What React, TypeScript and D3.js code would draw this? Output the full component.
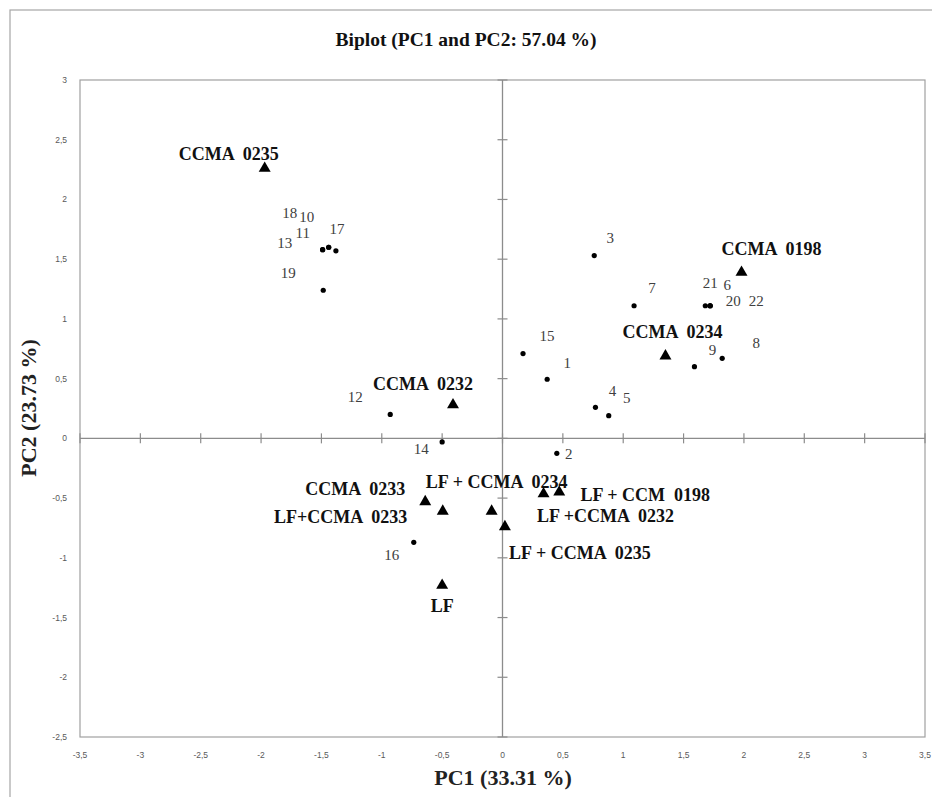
import React from 'react'
import { scaleLinear, range, symbol, symbolTriangle } from 'd3'

// Muestras (puntos)
const sampleIds = ['1', '2', '3', '4', '5', '6', '7', '8', '9', '10', '11', '12', '13', '14', '15', '16', '17', '18', '19', '20', '21', '22']
const samplePC1 = [0.37, 0.45, 0.76, 0.77, 0.88, 1.72, 1.09, 1.82, 1.59, -1.44, -1.44, -0.93, -1.49, -0.5, 0.17, -0.735, -1.38, -1.49, -1.485, 1.72, 1.68, 1.72]
const samplePC2 = [0.495, -0.125, 1.53, 0.26, 0.19, 1.11, 1.11, 0.67, 0.6, 1.6, 1.6, 0.2, 1.58, -0.03, 0.71, -0.87, 1.57, 1.58, 1.24, 1.11, 1.11, 1.11]
// Desplazamiento de etiquetas (px)
const sampleLabelDx = [20, 12, 16, 17, 18, 17, 18, 34, 18, -22, -26, -35, -38, -21, 24, -22, 1, -33, -35, 23, 5, 46]
const sampleLabelDy = [-16, 0, -18, -17, -18, -21, -18, -16, -17, -30, -14, -18, -7, 7, -18, 12, -22, -37, -17, -5, -23, -5]

// Cepas / tratamientos (triángulos)
const strainNames = ['CCMA  0235', 'CCMA  0198', 'CCMA  0234', 'CCMA  0232', 'CCMA  0233', 'LF+CCMA  0233', 'LF + CCMA  0234', 'LF + CCMA  0235', 'LF +CCMA  0232', 'LF + CCM  0198', 'LF']
const strainPC1 = [-1.97, 1.98, 1.35, -0.41, -0.64, -0.495, -0.09, 0.02, 0.34, 0.47, -0.5]
const strainPC2 = [2.26, 1.39, 0.69, 0.28, -0.53, -0.61, -0.61, -0.74, -0.465, -0.45, -1.23]
const strainLabelDx = [-36, 30, 7, -30, -70, -102, 5, 75, 62, 86, 0]
const strainLabelDy = [-15, -24, -24, -21, -13, 5, -30, 26, 22, 3, 20]

const xTicks = range(-3.5, 3.51, 0.5)
const yTicks = range(-2.5, 3.01, 0.5)

const fmt = (v: number) => {
  const r = Math.round(v * 10) / 10
  return String(r === 0 ? 0 : r).replace('.', ',')
}

const W = 932
const H = 797

const App = () => {
  const x = scaleLinear().domain([-3.5, 3.5]).range([80, 925])
  const y = scaleLinear().domain([-2.5, 3]).range([737, 80])
  const tri = symbol().type(symbolTriangle).size(62)()

  const axisColor = '#8c8c8c'
  const serif = '"Liberation Serif", "Times New Roman", serif'
  const sans = '"Liberation Sans", Arial, sans-serif'

  return (
    <svg width={W} height={H} style={{ position: 'absolute', left: 0, top: 0, background: '#fff' }}>
      {/* marco exterior */}
      <rect x={10} y={10} width={940} height={800} fill="none" stroke="#a6a6a6" strokeWidth={1.2} />

      <text x={466} y={46} textAnchor="middle" fontFamily={serif} fontWeight="bold" fontSize={19.5} fill="#111">
        Biplot (PC1 and PC2: 57.04 %)
      </text>

      {/* área de trazado */}
      <rect x={x(-3.5)} y={y(3)} width={x(3.5) - x(-3.5)} height={y(-2.5) - y(3)} fill="none" stroke="#a0a0a0" strokeWidth={1.2} />

      {/* ejes en cero */}
      <line x1={x(-3.5)} x2={x(3.5)} y1={y(0)} y2={y(0)} stroke={axisColor} strokeWidth={1.3} />
      <line x1={x(0)} x2={x(0)} y1={y(3)} y2={y(-2.5)} stroke={axisColor} strokeWidth={1.3} />
      {xTicks.map(t => (
        <line key={'xt' + t} x1={x(t)} x2={x(t)} y1={y(0) - 5} y2={y(0) + 5} stroke={axisColor} strokeWidth={1.2} />
      ))}
      {yTicks.map(t => (
        <line key={'yt' + t} x1={x(0) - 5} x2={x(0) + 5} y1={y(t)} y2={y(t)} stroke={axisColor} strokeWidth={1.2} />
      ))}

      {/* etiquetas de marcas */}
      {xTicks.map(t => (
        <text key={'xl' + t} x={x(t)} y={758} textAnchor="middle" fontFamily={sans} fontSize={8.5} fill="#595959">
          {fmt(t)}
        </text>
      ))}
      {yTicks.map(t => (
        <text key={'yl' + t} x={67} y={y(t)} dy="0.35em" textAnchor="end" fontFamily={sans} fontSize={8.5} fill="#595959">
          {fmt(t)}
        </text>
      ))}

      {/* títulos de ejes */}
      <text x={503} y={785} textAnchor="middle" fontFamily={serif} fontWeight="bold" fontSize={22} fill="#222">
        PC1 (33.31 %)
      </text>
      <text transform="translate(36,408) rotate(-90)" textAnchor="middle" fontFamily={serif} fontWeight="bold" fontSize={22} fill="#222">
        PC2 (23.73 %)
      </text>

      {/* muestras */}
      {sampleIds.map((id, i) => (
        <g key={'s' + id}>
          <circle cx={x(samplePC1[i])} cy={y(samplePC2[i])} r={2.6} fill="#000" />
          <text x={x(samplePC1[i]) + sampleLabelDx[i]} y={y(samplePC2[i]) + sampleLabelDy[i]} dy="0.35em"
            textAnchor="middle" fontFamily={serif} fontSize={15} fill="#404040">
            {id}
          </text>
        </g>
      ))}

      {/* cepas */}
      {strainNames.map((name, i) => (
        <g key={'c' + name}>
          <path d={tri} transform={`translate(${x(strainPC1[i])},${y(strainPC2[i])})`} fill="#000" />
          <text x={x(strainPC1[i]) + strainLabelDx[i]} y={y(strainPC2[i]) + strainLabelDy[i]} dy="0.35em"
            textAnchor="middle" fontFamily={serif} fontWeight="bold" fontSize={18} fill="#111"
            style={{ whiteSpace: 'pre' }}>
            {name}
          </text>
        </g>
      ))}
    </svg>
  )
}

export default App
